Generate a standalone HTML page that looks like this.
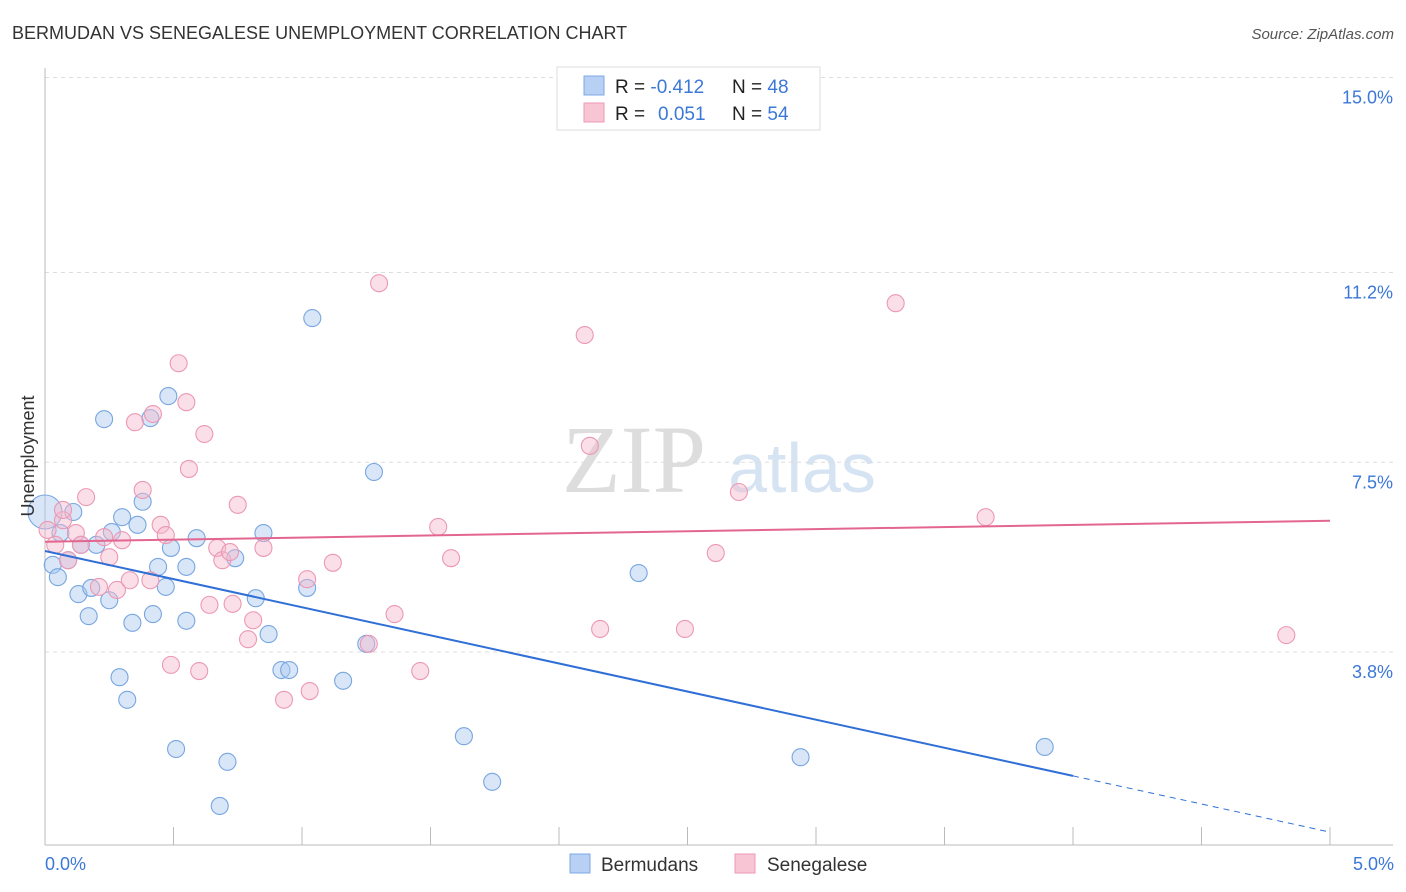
<!DOCTYPE html>
<html><head><meta charset="utf-8"><style>
body{margin:0;background:#fff;font-family:"Liberation Sans",sans-serif;}
svg{display:block}
</style></head><body>
<svg id="chart" width="1406" height="892" xmlns="http://www.w3.org/2000/svg">
<text x="12" y="39" font-size="18" fill="#333">BERMUDAN VS SENEGALESE UNEMPLOYMENT CORRELATION CHART</text>
<text x="1394" y="39" font-size="15" fill="#555" font-style="italic" text-anchor="end">Source: ZipAtlas.com</text>
<text x="634" y="492" font-size="96" fill="#ddd" font-family="Liberation Serif" text-anchor="middle">ZIP</text>
<text x="802" y="492" font-size="70" fill="#d6e3f3" text-anchor="middle">atlas</text>
<g id="grid"></g><g id="axes"></g><g id="marks"></g>
<text transform="translate(34,456) rotate(-90)" font-size="18" fill="#333" text-anchor="middle">Unemployment</text>
<text x="45" y="870" font-size="18" fill="#3b78d8">0.0%</text>
<text x="1394" y="870" font-size="18" fill="#3b78d8" text-anchor="end">5.0%</text>
<g>
<rect x="557" y="67" width="263" height="63" fill="#fff" stroke="#ddd"/>
<rect x="584" y="76" width="20" height="19" fill="#b7d0f3" stroke="#7ea8e4"/>
<rect x="584" y="103" width="20" height="19" fill="#f8c5d5" stroke="#ee9ab5"/>
<text x="615" y="93" font-size="19" fill="#222">R = <tspan fill="#3b78d8">-0.412</tspan><tspan x="732">N = </tspan><tspan fill="#3b78d8">48</tspan></text>
<text x="615" y="120" font-size="19" fill="#222">R = <tspan x="658" fill="#3b78d8">0.051</tspan><tspan x="732">N = </tspan><tspan fill="#3b78d8">54</tspan></text>
</g>
<g>
<rect x="570" y="854" width="20" height="19" fill="#b7d0f3" stroke="#7ea8e4"/>
<text x="601" y="871" font-size="19" fill="#333">Bermudans</text>
<rect x="735" y="854" width="20" height="19" fill="#f8c5d5" stroke="#ee9ab5"/>
<text x="767" y="871" font-size="19" fill="#333">Senegalese</text>
</g>
</svg>
<script>
const yTicks=[3.8,7.5,11.2,15.0];
const yTickLabels=["3.8%","7.5%","11.2%","15.0%"];
const xTicks=[0,0.5,1,1.5,2,2.5,3,3.5,4,4.5,5];
const bermX=[0.00,.03,.05,.09,.11,.13,.17,.18,.20,.23,.25,.26,.29,.30,.32,.34,.36,.38,.41,.42,.44,.47,.48,.49,.51,.55,.55,.59,.68,.71,.74,.82,.85,.87,.92,.95,1.02,1.04,1.16,1.25,1.28,1.63,1.74,2.31,2.94,3.89,.14,.06];
const bermY=[6.53,5.50,5.26,5.59,6.53,4.93,4.50,5.05,5.89,8.34,4.81,6.14,3.31,6.43,2.87,4.37,6.28,6.73,8.36,4.54,5.46,5.07,8.79,5.83,1.91,5.46,4.41,6.02,0.80,1.66,5.63,4.85,6.12,4.15,3.45,3.45,5.05,10.31,3.24,3.96,7.31,2.16,1.27,5.34,1.75,1.95,5.89,6.12];
const senX=[.01,.04,.07,.09,.12,.14,.16,.21,.23,.25,.28,.30,.33,.35,.38,.41,.42,.45,.47,.49,.52,.55,.56,.60,.62,.64,.67,.69,.72,.73,.75,.79,.81,.85,.93,1.02,1.03,1.12,1.26,1.30,1.36,1.46,1.53,1.58,2.10,2.12,2.16,2.49,2.61,2.70,3.31,3.66,4.83,.07];
const senY=[6.18,5.89,6.37,5.59,6.12,5.89,6.82,5.07,6.04,5.65,5.01,5.98,5.20,8.28,6.96,5.20,8.44,6.28,6.08,3.55,9.43,8.67,7.37,3.43,8.05,4.72,5.83,5.59,5.75,4.74,6.67,4.05,4.42,5.83,2.87,5.22,3.04,5.54,3.96,10.99,4.54,3.43,6.24,5.63,9.98,7.82,4.25,4.25,5.73,6.92,10.60,6.43,4.13,6.57];
const bermTrend=[5.77,0.29];
const senTrend=[5.95,6.36];
const bermSolidEnd=4.0;

const NS="http://www.w3.org/2000/svg";
const X=v=>45+v*257;
const Y=v=>847-v*51.3;
function mk(tag,attrs,parent){const e=document.createElementNS(NS,tag);for(const k in attrs)e.setAttribute(k,attrs[k]);parent.appendChild(e);return e;}
const grid=document.getElementById('grid'),axes=document.getElementById('axes'),marks=document.getElementById('marks');
yTicks.forEach((t,i)=>{
  const l=mk('line',{x1:45,x2:1393,y1:Y(t),y2:Y(t),stroke:'#ddd','stroke-dasharray':'4,4'},grid);
  
  
  const tx=mk('text',{x:1393,y:Y(t)+26,'font-size':18,fill:'#3b78d8','text-anchor':'end'},grid);
  tx.textContent=yTickLabels[i];
  
  
});
const ya=mk('line',{x1:45,x2:45,y1:68,y2:845,stroke:'#bbb'},axes);


const xa=mk('line',{x1:45,x2:1393,y1:845,y2:845,stroke:'#bbb'},axes);


xTicks.forEach(t=>{
  const l=mk('line',{x1:X(t),x2:X(t),y1:827,y2:845,stroke:'#bbb'},axes);
  
  
});
function dots(xs,ys,fill,stroke,name,bigFirst){
  xs.forEach((x,i)=>{
    const big=(bigFirst&&i===0);
    const c=mk('circle',{cx:X(x),cy:Y(ys[i]),r:big?17:8.5,fill:fill,'fill-opacity':0.45,stroke:stroke,'stroke-width':1.1},marks);
    
    
  });
}
dots(bermX,bermY,'#a9c7ef','#78a6e0','bermudan-point',true);
dots(senX,senY,'#f6b9cc','#ec98b3','senegalese-point',false);
const bt=v=>bermTrend[0]+(bermTrend[1]-bermTrend[0])*v/5;
let l=mk('line',{x1:X(0),y1:Y(bt(0)),x2:X(bermSolidEnd),y2:Y(bt(bermSolidEnd)),stroke:'#2f6fd6','stroke-width':2},marks);


l=mk('line',{x1:X(bermSolidEnd),y1:Y(bt(bermSolidEnd)),x2:X(5),y2:Y(bt(5)),stroke:'#2f6fd6','stroke-width':1,'stroke-dasharray':'6,5'},marks);


l=mk('line',{x1:X(0),y1:Y(senTrend[0]),x2:X(5),y2:Y(senTrend[1]),stroke:'#e2668f','stroke-width':2},marks);


</script>
</body></html>
